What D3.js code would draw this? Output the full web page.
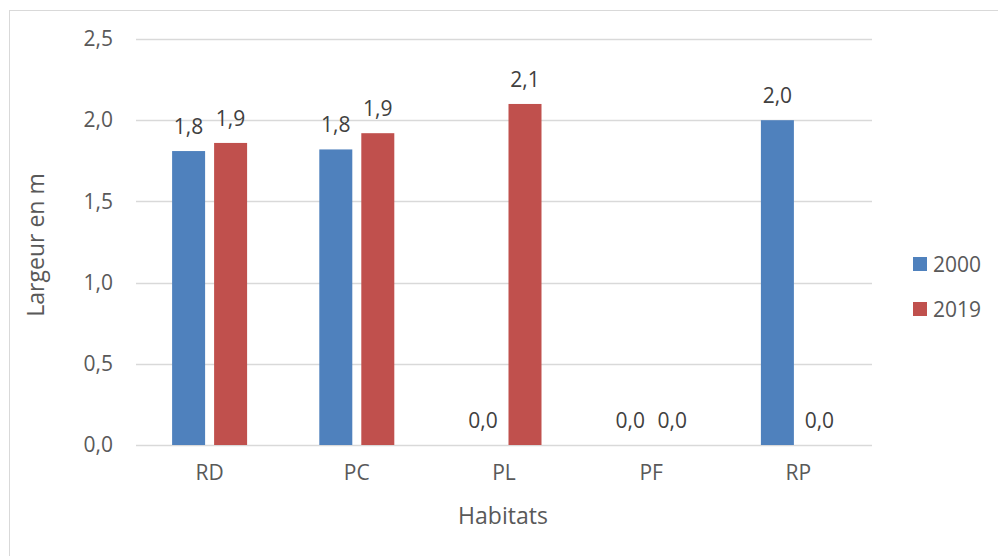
<!DOCTYPE html>
<html><head><meta charset="utf-8">
<script src="https://cdn.jsdelivr.net/npm/d3@7"></script>
<style>body{margin:0;background:#fff}svg{display:block}text{font-family:"Open Sans",Lato,sans-serif}</style>
</head><body><svg id="c" width="998" height="556"></svg>
<script>
const categories = ["RD","PC","PL","PF","RP"];
const seriesNames = ["2000","2019"];
const values2000 = [1.81, 1.82, 0.0, 0.0, 2.0];
const values2019 = [1.86, 1.92, 2.10, 0.0, 0.0];
const yTicks = [0, 0.5, 1.0, 1.5, 2.0, 2.5];
const colors = ["#4F81BD", "#C0504D"];
const FF = "'Open Sans',Lato,sans-serif";

const svg = d3.select("#c");
svg.append("rect").attr("x",9.5).attr("y",10.5).attr("width",1000).attr("height",560)
  .attr("fill","#fff").attr("stroke","#D9D9D9");

const m = {l:136, r:872, t:39, b:445};
const x = d3.scaleBand().domain(categories).range([m.l, m.r]).paddingInner(0).paddingOuter(0);
const y = d3.scaleLinear().domain([0, 2.5]).range([m.b, m.t]);
const fmt = v => d3.format(".1f")(v).replace(".", ",");

// gridlines
svg.append("g").selectAll("line").data(yTicks).join("line")
  .attr("x1", m.l).attr("x2", m.r)
  .attr("y1", d => Math.round(y(d)) + 0.5).attr("y2", d => Math.round(y(d)) + 0.5)
  .attr("stroke", "#D9D9D9").attr("stroke-width", 1.5);

// y axis labels
const ya = svg.append("g").attr("transform", `translate(${m.l-23},0)`)
  .call(d3.axisLeft(y).tickValues(yTicks).tickFormat(fmt).tickSize(0).tickPadding(0));
ya.select(".domain").remove();
ya.selectAll("text").attr("font-size", 21).attr("fill", "#595959").attr("font-family", FF);

// x axis labels
const xa = svg.append("g").attr("transform", `translate(0,${m.b+20})`)
  .call(d3.axisBottom(x).tickSize(0).tickPadding(0));
xa.select(".domain").remove();
xa.selectAll("text").attr("font-size", 21).attr("fill", "#595959").attr("font-family", FF).attr("dy","0.71em");

const bw = 33, gap = 9;
const data = [];
categories.forEach((c, i) => {
  [values2000[i], values2019[i]].forEach((v, s) => {
    data.push({c, s, v});
  });
});
const bx = d => x(d.c) + x.bandwidth()/2 + (d.s === 0 ? -(bw + gap/2) : gap/2);

svg.append("g").selectAll("rect").data(data.filter(d => d.v > 0)).join("rect")
  .attr("x", bx).attr("width", bw)
  .attr("y", d => y(d.v)).attr("height", d => y(0) - y(d.v))
  .attr("fill", d => colors[d.s]);

svg.append("g").selectAll("text").data(data).join("text")
  .attr("x", d => bx(d) + bw/2).attr("y", d => y(d.v) - 25)
  .attr("text-anchor", "middle").attr("dominant-baseline", "central")
  .attr("font-size", 21).attr("fill", "#404040").text(d => fmt(d.v));

// axis titles
svg.append("text").attr("transform", "translate(35,245) rotate(-90)")
  .attr("text-anchor", "middle").attr("dominant-baseline", "central")
  .attr("font-size", 23).attr("fill", "#595959").text("Largeur en m");
svg.append("text").attr("x", 503).attr("y", 515)
  .attr("text-anchor", "middle").attr("dominant-baseline", "central")
  .attr("font-size", 23).attr("fill", "#595959").text("Habitats");

// legend
const lg = svg.append("g").selectAll("g").data(seriesNames).join("g")
  .attr("transform", (d, i) => `translate(913,${257 + i*45})`);
lg.append("rect").attr("width", 14).attr("height", 14).attr("fill", (d, i) => colors[i]);
lg.append("text").attr("x", 20).attr("y", 7).attr("dominant-baseline", "central")
  .attr("font-size", 21).attr("fill", "#595959").text(d => d);
</script></body></html>
